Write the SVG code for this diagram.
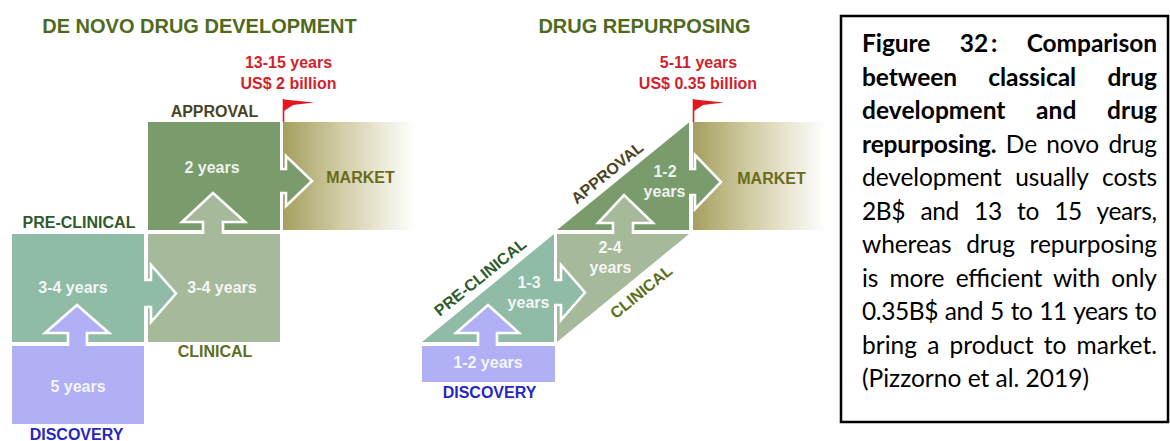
<svg xmlns="http://www.w3.org/2000/svg" width="1170" height="441" viewBox="0 0 1170 441">
<style>
.t{font-family:"Liberation Sans",Arial,sans-serif;font-weight:bold}
.title{font-size:20px;fill:#4f6a1d;text-anchor:middle}
.red{font-size:16px;fill:#d21f2c;text-anchor:middle}
.lab{font-size:16px;text-anchor:middle}
.wt{font-size:16px;fill:#ffffff;fill-opacity:0.9;text-anchor:middle}
.appr{fill:#4a4426}.pre{fill:#2f5a2c}.cli{fill:#5d6f1e}.mkt{fill:#6a6c1c}.disc{fill:#2626c4}
.fA{fill:#7a9b6c}.fC{fill:#a6b99b}.fP{fill:#8fbba7}.fD{fill:#afb0f5}
.ol{fill:none;stroke:#ffffff;stroke-width:2.6;stroke-linejoin:miter}
.flag{fill:#e5161f}.pole{stroke:#e5161f;stroke-width:1.6}
.cap{font-family:Lato,"Liberation Sans",sans-serif;font-size:24.5px;fill:#000}
.b{font-weight:bold}
</style>
<defs>
<linearGradient id="mg" x1="0" y1="0" x2="1" y2="0">
<stop offset="0" stop-color="#a59f5f"/>
<stop offset="0.45" stop-color="#d2cea7"/>
<stop offset="0.82" stop-color="#f1efe3"/>
<stop offset="1" stop-color="#ffffff"/>
</linearGradient>
</defs>
<rect width="1170" height="441" fill="#ffffff"/>

<!-- Left: De novo -->
<text class="t title" x="199.5" y="33">DE NOVO DRUG DEVELOPMENT</text>
<g id="denovo-total">
<text class="t red" x="288.5" y="68">13-15 years</text>
<text class="t red" x="288.5" y="88.5">US$ 2 billion</text>
<line class="pole" x1="283.5" y1="99" x2="283.5" y2="122"/>
<polygon class="flag" points="284,99.5 314,102.5 293,105 284,111"/>
</g>
<g id="denovo-market">
<rect x="283" y="122" width="132" height="108" fill="url(#mg)"/>
<text class="t lab mkt" x="360.5" y="183">MARKET</text>
</g>
<g id="denovo-approval">
<rect class="fA" x="148" y="122" width="132" height="108"/>
<text class="t lab appr" x="214.5" y="117">APPROVAL</text>
<text class="t wt" x="212" y="173">2 years</text>
</g>
<g id="denovo-clinical">
<rect class="fC" x="148" y="234" width="132" height="108"/>
<text class="t lab cli" x="215" y="357">CLINICAL</text>
<text class="t wt" x="222" y="293">3-4 years</text>
</g>
<g id="denovo-preclinical">
<rect class="fP" x="12" y="234" width="132" height="108"/>
<text class="t lab pre" x="79" y="228">PRE-CLINICAL</text>
<text class="t wt" x="73" y="293">3-4 years</text>
</g>
<g id="denovo-discovery">
<rect class="fD" x="12" y="346" width="132" height="78"/>
<text class="t wt" x="78" y="392">5 years</text>
<text class="t lab disc" x="76.5" y="440">DISCOVERY</text>
</g>

<!-- Right: Repurposing -->
<text class="t title" x="644.5" y="33">DRUG REPURPOSING</text>
<g id="repo-total">
<text class="t red" x="698.5" y="68">5-11 years</text>
<text class="t red" x="698" y="88.5">US$ 0.35 billion</text>
<line class="pole" x1="693.5" y1="99" x2="693.5" y2="122"/>
<polygon class="flag" points="694,99.5 724,102.5 703,105 694,111"/>
</g>
<g id="repo-market">
<rect x="693" y="122" width="132" height="108" fill="url(#mg)"/>
<text class="t lab mkt" x="771.5" y="184">MARKET</text>
</g>
<g id="repo-approval">
<polygon class="fA" points="557,230 689,122.5 689,230"/>
<text class="t lab appr" transform="translate(607,172.5) rotate(-39.1)" y="5.8">APPROVAL</text>
<text class="t wt" x="665" y="177">1-2</text>
<text class="t wt" x="664.5" y="197">years</text>
</g>
<g id="repo-clinical">
<polygon class="fC" points="557,234 689,234 557,342"/>
<text class="t lab cli" transform="translate(641,291.5) rotate(-39.1)" y="5.8">CLINICAL</text>
<text class="t wt" x="610" y="253">2-4</text>
<text class="t wt" x="610.5" y="273">years</text>
</g>
<g id="repo-preclinical">
<polygon class="fP" points="422,342 554,234 554,342"/>
<text class="t lab pre" transform="translate(480,277) rotate(-39.1)" y="5.8">PRE-CLINICAL</text>
<text class="t wt" x="529" y="288">1-3</text>
<text class="t wt" x="528.5" y="308">years</text>
</g>
<g id="repo-discovery">
<rect class="fD" x="422" y="346" width="133" height="36"/>
<text class="t wt" x="488" y="368">1-2 years</text>
<text class="t lab disc" x="489.5" y="398">DISCOVERY</text>
</g>

<!-- Connectors (block arrows) -->
<g id="connectors">
<polygon class="fD" points="68,349 68,333 45,333 77,305 109,333 87,333 87,349"/>
<polyline class="ol" points="68,346 68,333 45,333 77,305 109,333 87,333 87,346"/>
<polygon class="fP" points="141,280 151,280 151,265 176,293.5 151,322 151,307 141,307"/>
<polyline class="ol" points="144,280 151,280 151,265 176,293.5 151,322 151,307 144,307"/>
<polygon class="fC" points="203,237 203,222 182,222 213,193 245,222 223,222 223,237"/>
<polyline class="ol" points="203,234 203,222 182,222 213,193 245,222 223,222 223,234"/>
<polygon class="fA" points="277,169 286,169 286,156 312,181 286,206 286,193 277,193"/>
<polyline class="ol" points="280,169 286,169 286,156 312,181 286,206 286,193 280,193"/>

<polygon class="fD" points="478,349 478,333 456,333 488,305 519,333 497,333 497,349"/>
<polyline class="ol" points="478,346 478,333 456,333 488,305 519,333 497,333 497,346"/>
<polygon class="fP" points="551,280 561,280 561,265 585,292.5 561,320 561,305 551,305"/>
<polyline class="ol" points="554,280 561,280 561,265 585,292.5 561,320 561,305 554,305"/>
<polygon class="fC" points="613,237 613,223 598,223 624,195 653,223 633,223 633,237"/>
<polyline class="ol" points="613,234 613,223 598,223 624,195 653,223 633,223 633,234"/>
<polygon class="fA" points="686,169 695,169 695,155 721,182 695,209 695,195 686,195"/>
<polyline class="ol" points="689,169 695,169 695,155 721,182 695,209 695,195 689,195"/>
</g>

<!-- Caption -->
<g id="caption">
<rect x="841" y="16" width="327" height="406" fill="none" stroke="#000" stroke-width="2.5"/>
<text class="cap b" x="862" y="52" word-spacing="23.6" textLength="295" lengthAdjust="spacing"><tspan>Figure</tspan> <tspan>32&#8201;:</tspan> <tspan>Comparison</tspan></text>
<text class="cap b" x="862" y="85.5" word-spacing="25.4" textLength="295" lengthAdjust="spacing"><tspan>between</tspan> <tspan>classical</tspan> <tspan>drug</tspan></text>
<text class="cap b" x="862" y="119" word-spacing="24.5" textLength="295" lengthAdjust="spacing"><tspan>development</tspan> <tspan>and</tspan> <tspan>drug</tspan></text>
<text class="cap" x="862" y="152.5" word-spacing="3.2" textLength="295" lengthAdjust="spacing"><tspan class="b">repurposing.</tspan> <tspan>De</tspan> <tspan>novo</tspan> <tspan>drug</tspan></text>
<text class="cap" x="862" y="186" word-spacing="7.6" textLength="295" lengthAdjust="spacing"><tspan>development</tspan> <tspan>usually</tspan> <tspan>costs</tspan></text>
<text class="cap" x="862" y="219.5" word-spacing="9.4" textLength="295" lengthAdjust="spacing"><tspan>2B$</tspan> <tspan>and</tspan> <tspan>13</tspan> <tspan>to</tspan> <tspan>15</tspan> <tspan>years,</tspan></text>
<text class="cap" x="862" y="253" word-spacing="8.5" textLength="295" lengthAdjust="spacing"><tspan>whereas</tspan> <tspan>drug</tspan> <tspan>repurposing</tspan></text>
<text class="cap" x="862" y="286.5" word-spacing="5" textLength="295" lengthAdjust="spacing"><tspan>is</tspan> <tspan>more</tspan> <tspan>efficient</tspan> <tspan>with</tspan> <tspan>only</tspan></text>
<text class="cap" x="862" y="320" word-spacing="1" textLength="295" lengthAdjust="spacing"><tspan>0.35B$</tspan> <tspan>and</tspan> <tspan>5</tspan> <tspan>to</tspan> <tspan>11</tspan> <tspan>years</tspan> <tspan>to</tspan></text>
<text class="cap" x="862" y="353.5" word-spacing="4" textLength="295" lengthAdjust="spacing"><tspan>bring</tspan> <tspan>a</tspan> <tspan>product</tspan> <tspan>to</tspan> <tspan>market.</tspan></text>
<text class="cap" x="862" y="387"><tspan>(Pizzorno</tspan> <tspan>et</tspan> <tspan>al.</tspan> <tspan>2019)</tspan></text>
</g>
</svg>
